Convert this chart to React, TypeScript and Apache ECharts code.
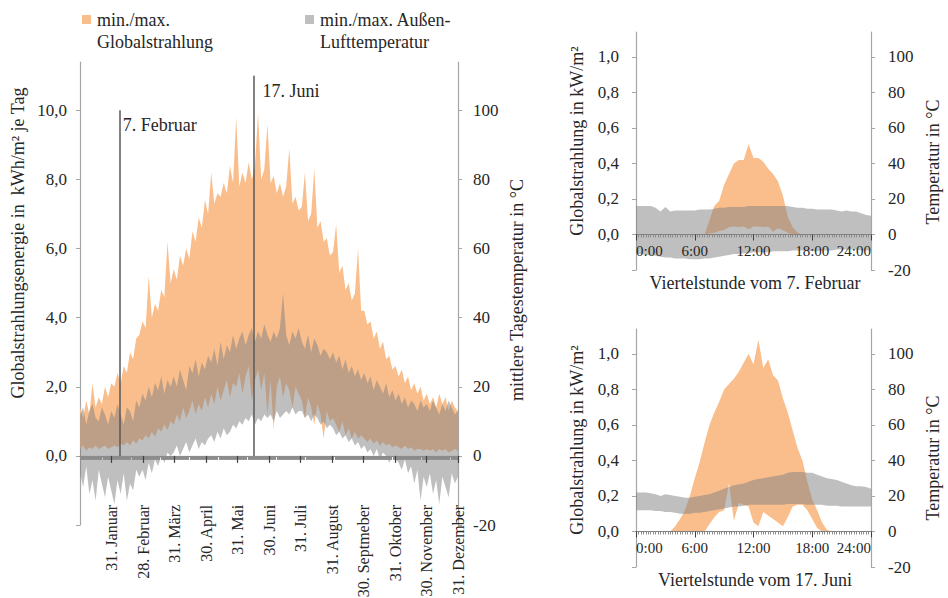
import React, { useEffect, useRef } from 'react';
import * as echarts from 'echarts';

const FONT = '"Liberation Serif", "DejaVu Serif", serif';
const TEXT = '#262626';
const AXIS = '#a6a6a6';
const ORANGE = '#f9be8c';
const GREY = 'rgba(128,128,128,0.5)';
const GREY_KEY = '#bfbfbf';

// ---- Year overview: one value roughly every three days ----
// Daily global radiation, min / max (kWh/m² per day)
const RAD_MAX = [
  1.4, 1.1, 1.6, 1.2, 2.1, 1.4, 1.7, 1.5, 2.0, 1.7, 2.1,
  2.0, 2.4, 2.1, 2.6, 2.4, 3.0, 2.8, 3.4, 3.5,
  3.9, 3.7, 5.2, 4.0, 4.4, 4.2, 4.8, 4.6, 6.2, 5.0,
  5.4, 5.1, 5.8, 5.5, 6.0, 5.7, 6.5, 6.2, 6.9, 6.6,
  7.4, 7.0, 8.2, 7.3, 7.6, 7.5, 7.9, 7.6, 8.4, 7.9,
  9.8, 7.8, 8.2, 7.9, 8.5, 8.0, 8.4, 9.9, 8.0, 8.3,
  9.6, 7.9, 8.1, 7.6, 7.9, 7.5, 7.8, 8.9, 7.3, 7.5, 7.1,
  7.2, 8.2, 6.8, 7.0, 8.3, 6.6, 6.8, 6.2, 6.3, 5.8,
  5.9, 6.7, 5.3, 5.5, 4.8, 5.0, 4.5, 4.7, 6.0, 4.2,
  4.2, 3.8, 3.9, 3.4, 3.6, 3.1, 3.3, 2.8, 2.9, 2.5, 2.6,
  2.3, 2.5, 2.1, 2.3, 1.9, 2.1, 1.8, 2.0, 1.6, 1.8,
  1.5, 1.7, 1.4, 1.8, 1.5, 1.7, 1.3, 1.6, 1.4, 1.3,
];
const RAD_MIN = [
  0.2, 0.3, 0.15, 0.25, 0.2, 0.3, 0.2, 0.25, 0.3, 0.2, 0.25,
  0.3, 0.25, 0.35, 0.3, 0.4, 0.3, 0.45, 0.35, 0.5,
  0.45, 0.6, 0.5, 0.7, 0.55, 0.8, 0.7, 0.9, 0.75, 1.0,
  0.9, 1.2, 1.0, 1.4, 1.1, 1.3, 1.6, 1.2, 1.5, 1.3,
  1.7, 1.4, 1.8, 1.5, 2.0, 1.6, 1.9, 2.2, 1.7, 2.1,
  2.0, 2.4, 1.8, 2.3, 2.6, 1.6, 2.2, 2.5, 1.9, 2.4,
  1.2, 2.2, 0.75, 2.0, 2.3, 1.7, 2.1, 1.9, 1.4, 2.0, 1.8,
  1.6, 1.1, 1.7, 1.4, 0.9, 1.5, 1.2, 0.5, 1.3, 1.0,
  1.1, 0.9, 0.7, 1.0, 0.6, 0.8, 0.5, 0.7, 0.5, 0.6,
  0.5, 0.4, 0.5, 0.35, 0.45, 0.3, 0.4, 0.3, 0.35, 0.25, 0.3,
  0.25, 0.2, 0.3, 0.2, 0.25, 0.15, 0.2, 0.2, 0.15, 0.2,
  0.15, 0.2, 0.1, 0.2, 0.15, 0.2, 0.1, 0.15, 0.2, 0.15,
];
// Outdoor air temperature, min / max (°C)
const TEMP_MAX = [
  12, 14, 9, 13, 15, 11, 10, 14, 12, 9, 13,
  11, 15, 12, 9, 14, 13, 10, 16, 14,
  18, 16, 20, 17, 21, 19, 23, 18, 22, 20,
  23, 20, 25, 22, 19, 26, 24, 28, 23, 27,
  25, 29, 27, 31, 26, 33, 28, 32, 30, 35,
  31, 34, 36, 32, 35, 37, 33, 36, 34, 38,
  35, 33, 36, 34, 37, 47, 35, 32, 36, 34, 37,
  33, 31, 35, 30, 34, 32, 29, 31, 30, 28,
  30, 27, 29, 25, 28, 24, 26, 23, 25, 22,
  24, 21, 23, 19, 22, 20, 18, 21, 17, 19, 16,
  18, 15, 17, 14, 16, 15, 13, 16, 14, 15,
  13, 16, 14, 12, 15, 13, 16, 14, 12, 13,
];
const TEMP_MIN = [
  -5, -9, -3, -11, -7, -13, -4, -8, -12, -6, -10,
  -14, -7, -11, -5, -13, -8, -10, -4, -6,
  -4, -7, -2, -5, -1, -3, 0, -2, 1, 0,
  1, 3, 0, 2, 4, 1, 3, 5, 2, 4,
  3, 5, 6, 4, 7, 5, 8, 6, 7, 9,
  8, 10, 9, 11, 10, 12, 9, 11, 10, 12,
  11, 12, 10, 13, 11, 12, 13, 12, 14, 12, 13,
  13, 11, 12, 10, 12, 11, 9, 10, 8, 9,
  8, 6, 7, 5, 6, 4, 5, 3, 4, 2,
  3, 1, 2, 0, 2, -1, 1, 0, -2, 0, -1,
  -2, -4, -1, -5, -3, -8, -4, -13, -6, -9,
  -5, -11, -7, -14, -6, -9, -12, -5, -8, -6,
];
const YEAR_DAYS = 365;
// sample positions (day of year) of the values above
const DAYS = RAD_MAX.map((_, i) => ((i * YEAR_DAYS) / (RAD_MAX.length - 1)).toFixed(1));

const MONTH_LABELS = [
  '', '31. Januar', '28. Februar', '31. März', '30. April', '31. Mai', '30. Juni',
  '31. Juli', '31. August', '30. Septmeber', '31. Oktober', '30. November', '31. Dezember',
];

// Highlighted days (day of year, line height in kWh/m²)
const MARKER_DAYS = [38, 168];
const MARKER_TOPS = [10, 11];
const MARKER_LABELS = ['7. Februar', '17. Juni'];

// ---- Single days, half-hour resolution (0:00 … 24:00) ----
const FEB_RAD_MAX = [
  0, 0, 0, 0, 0, 0, 0, 0, 0, 0, 0, 0, 0, 0, 0,
  0.08, 0.16, 0.19, 0.28, 0.34, 0.4, 0.42, 0.42, 0.51, 0.43, 0.43, 0.41, 0.37, 0.34, 0.3, 0.22, 0.1, 0.04, 0.01,
  0, 0, 0, 0, 0, 0, 0, 0, 0, 0, 0, 0, 0, 0, 0,
];
const FEB_RAD_MIN = [
  0, 0, 0, 0, 0, 0, 0, 0, 0, 0, 0, 0, 0, 0, 0,
  0.005, 0.01, 0.02, 0.025, 0.04, 0.045, 0.04, 0.045, 0.03, 0.045, 0.045, 0.04, 0.045, 0.015, 0.035, 0.025, 0.01, 0, 0,
  0, 0, 0, 0, 0, 0, 0, 0, 0, 0, 0, 0, 0, 0, 0,
];
const FEB_TEMP_MAX = [
  16, 16, 16, 16, 15, 13, 15.5, 13, 13.5, 13.5, 13.5, 13.5, 13.5, 14, 14, 14,
  14.5, 15, 15, 15.5, 15.5, 15.5, 15.5, 16, 16, 16, 16, 16, 16, 16, 16, 16,
  15.5, 15, 15, 14.5, 14.5, 14, 14, 14, 14, 13.5, 13, 13.5, 13, 13, 12, 11, 10.5,
];
const FEB_TEMP_MIN = [
  -11, -11, -11.5, -11.5, -12, -12.5, -13, -13, -13.5, -13.5, -13.5, -14, -14, -14, -13.5, -13.5,
  -13, -12.5, -12, -11.5, -11, -11, -10.5, -10.5, -10, -10, -10, -10, -9.5, -9.5, -9.5, -9.5,
  -9, -9, -9, -9.5, -9.5, -9.5, -9, -9, -9, -8.5, -8.5, -8.5, -8.5, -8.5, -9, -9, -9,
];
const JUN_RAD_MAX = [
  0, 0, 0, 0, 0, 0, 0, 0,
  0.03, 0.07, 0.12, 0.2, 0.3, 0.39, 0.5, 0.6, 0.67, 0.73, 0.8, 0.83, 0.86, 0.9, 0.95, 1.0,
  0.94, 1.08, 0.92, 0.97, 0.88, 0.85, 0.75, 0.67, 0.57, 0.47, 0.4, 0.28, 0.18, 0.12, 0.05, 0.01,
  0, 0, 0, 0, 0, 0, 0, 0, 0,
];
const JUN_RAD_MIN = [
  0, 0, 0, 0, 0, 0, 0, 0, 0, 0,
  0, 0, 0, 0, 0, 0.04, 0.08, 0.11, 0.12, 0.27, 0.06, 0.16, 0.15, 0.14, 0.05,
  0.03, 0.11, 0.09, 0.07, 0.05, 0.03, 0.08, 0.14, 0.15, 0.15, 0.12, 0.07, 0.02, 0,
  0, 0, 0, 0, 0, 0, 0, 0, 0, 0,
];
const JUN_TEMP_MAX = [
  22, 22, 22, 21.5, 21, 20, 21, 20.5, 20, 19.5, 19, 19, 19.5, 20, 20.5, 21,
  22, 23, 24, 25, 26, 26.5, 27, 28, 29, 29.5, 30, 30.5, 31, 31.5, 32, 33,
  33.5, 33.5, 33.5, 33, 33, 32, 31, 30, 29.5, 29, 28, 27, 26, 25.5, 25.5, 25, 24,
];
const JUN_TEMP_MIN = [
  12, 12, 12, 12, 11.5, 11.5, 11, 11, 10.5, 10, 10, 10, 10.5, 10.5, 11, 11.5,
  12, 12.5, 13, 13.5, 14, 14, 14.5, 15, 15, 15, 15, 15, 15, 15, 15, 15.5,
  15.5, 15.5, 15.5, 15, 15, 15, 15, 14.5, 14.5, 14.5, 14, 14, 14, 14, 14, 14, 14,
];
// half-hour slots, 0:00 … 24:00
const HOURS = FEB_RAD_MAX.map((_, i) => String(i * 0.5));

const RAD_TICKS_DAY = [-2, 0, 2, 4, 6, 8, 10];
const RAD_LABELS_DAY = [0, 2, 4, 6, 8, 10];
const RAD_TICKS_QH = [-0.2, 0, 0.2, 0.4, 0.6, 0.8, 1.0];
const RAD_LABELS_QH = [0, 0.2, 0.4, 0.6, 0.8, 1.0];
const TEMP_TICKS = [-20, 0, 20, 40, 60, 80, 100];

// grid geometry (px)
const MAIN = { left: 80, top: 62, width: 378, height: 463, min: -2, max: 11.4 };
const SMALL = { left: 636, width: 235, height: 238, min: -0.2, max: 1.14 };
const zeroOffset = (g: { height: number; min: number; max: number }) => (g.min / (g.max - g.min)) * g.height;

const comma = (v: number) => v.toFixed(1).replace('.', ',');

function band(
  id: string, xIdx: number, yIdx: number, lo: number[], hi: number[], color: string, z: number,
) {
  const common = {
    type: 'line', xAxisIndex: xIdx, yAxisIndex: yIdx, stack: id, stackStrategy: 'all',
    symbol: 'none', showSymbol: false, silent: true, z, lineStyle: { width: 0, opacity: 0 },
  };
  return [
    { ...common, data: lo },
    { ...common, data: hi.map((v, i) => v - lo[i]), areaStyle: { color, opacity: 1 } },
  ];
}

function dataAxis(gridIndex: number, data: string[]) {
  return { type: 'category', gridIndex, data, boundaryGap: false, show: false };
}

function radAxis(gridIndex: number, min: number, max: number, ticks: number[], labels: number[], margin: number) {
  return {
    type: 'value', gridIndex, position: 'left', min, max, interval: ticks[2] - ticks[1],
    axisLine: { show: true, onZero: false, lineStyle: { color: AXIS, width: 1.2 } },
    axisTick: { show: true, length: 4, customValues: ticks, lineStyle: { color: AXIS } },
    axisLabel: {
      customValues: labels, margin, fontFamily: FONT, fontSize: 17, color: TEXT,
      formatter: (v: number) => (v < -1e-6 || v > labels[labels.length - 1] + 1e-6 ? '' : comma(v)),
    },
    splitLine: { show: false },
  };
}

function tempAxis(gridIndex: number, margin: number) {
  return {
    type: 'value', gridIndex, position: 'right', min: -20, max: 114, interval: 20,
    axisLine: { show: true, onZero: false, lineStyle: { color: AXIS, width: 1.2 } },
    axisTick: { show: true, length: 4, customValues: TEMP_TICKS, lineStyle: { color: AXIS } },
    axisLabel: {
      customValues: TEMP_TICKS, margin, fontFamily: FONT, fontSize: 17, color: TEXT,
      formatter: (v: number) => (v > 100.5 ? '' : String(v)),
    },
    splitLine: { show: false },
  };
}

function hourAxis(gridIndex: number) {
  return {
    type: 'value', gridIndex, position: 'bottom', offset: zeroOffset(SMALL), min: 0, max: 24, interval: 6, z: 5,
    axisLine: { show: true, onZero: false, lineStyle: { color: '#7f7f7f', width: 1 } },
    axisTick: { show: true, length: 6, lineStyle: { color: '#404040', width: 1 } },
    minorTick: { show: true, splitNumber: 24, length: 3, lineStyle: { color: '#8c8c8c' } },
    axisLabel: {
      margin: 9, fontFamily: FONT, fontSize: 15, color: TEXT,
      alignMinLabel: 'left', alignMaxLabel: 'right',
      formatter: (v: number) => `${v}:00`,
    },
    splitLine: { show: false },
  };
}

function title(text: string, x: number, y: number, vertical: boolean) {
  return {
    type: 'text', x, y, rotation: vertical ? Math.PI / 2 : 0, silent: true,
    style: { text, fontFamily: FONT, fontSize: 18, fill: TEXT, align: 'center', verticalAlign: 'middle' },
  };
}

function legendKey(x: number, color: string, lines: string[]) {
  return [
    { type: 'rect', shape: { x, y: 15, width: 9, height: 9 }, style: { fill: color }, silent: true },
    ...lines.map((t, i) => ({
      type: 'text', x: x + 15, y: 20 + i * 22, silent: true,
      style: { text: t, fontFamily: FONT, fontSize: 18, fill: TEXT, align: 'left', verticalAlign: 'middle' },
    })),
  ];
}

export default function App() {
  const ref = useRef<HTMLDivElement>(null);

  useEffect(() => {
    if (!ref.current) return;
    const chart = echarts.init(ref.current, undefined, { renderer: 'svg' });
    const mainZero = zeroOffset(MAIN);

    const option: any = {
      animation: false,
      backgroundColor: '#ffffff',
      textStyle: { fontFamily: FONT },
      grid: [
        { left: MAIN.left, top: MAIN.top, width: MAIN.width, height: MAIN.height, outerBoundsMode: 'none' },
        { left: SMALL.left, top: 32, width: SMALL.width, height: SMALL.height, outerBoundsMode: 'none' },
        { left: SMALL.left, top: 329, width: SMALL.width, height: SMALL.height, outerBoundsMode: 'none' },
      ],
      xAxis: [
        // 0: sample positions of the year series
        dataAxis(0, DAYS),
        // 1: daily ticks along the zero line
        {
          type: 'value', gridIndex: 0, position: 'bottom', offset: mainZero, min: 0, max: YEAR_DAYS, interval: 1, z: 5,
          axisLine: { show: true, onZero: false, lineStyle: { color: '#7f7f7f', width: 1 } },
          axisTick: { show: true, length: 4, lineStyle: { color: '#8c8c8c', width: 1 } },
          axisLabel: { show: false },
          splitLine: { show: false },
        },
        // 2: month ends
        {
          type: 'category', gridIndex: 0, position: 'bottom', offset: mainZero, data: MONTH_LABELS, boundaryGap: false, z: 6,
          axisLine: { show: false, onZero: false },
          axisTick: {
            show: true, length: 7, interval: (i: number) => i > 0,
            lineStyle: { color: '#404040', width: 1.2 },
          },
          axisLabel: {
            interval: 0, rotate: 90, margin: 49, fontFamily: FONT, fontSize: 16, color: TEXT,
          },
          splitLine: { show: false },
        },
        dataAxis(1, HOURS),
        hourAxis(1),
        dataAxis(2, HOURS),
        hourAxis(2),
      ],
      yAxis: [
        radAxis(0, MAIN.min, MAIN.max, RAD_TICKS_DAY, RAD_LABELS_DAY, 13),
        tempAxis(0, 15),
        radAxis(1, SMALL.min, SMALL.max, RAD_TICKS_QH, RAD_LABELS_QH, 17),
        tempAxis(1, 17),
        radAxis(2, SMALL.min, SMALL.max, RAD_TICKS_QH, RAD_LABELS_QH, 17),
        tempAxis(2, 17),
      ],
      series: [
        ...band('radYear', 0, 0, RAD_MIN, RAD_MAX, ORANGE, 2),
        ...band('tempYear', 0, 1, TEMP_MIN, TEMP_MAX, GREY, 3),
        {
          type: 'line', xAxisIndex: 1, yAxisIndex: 0, data: [], z: 7, silent: true,
          markLine: {
            silent: true, symbol: ['none', 'none'], label: { show: false },
            lineStyle: { color: '#595959', width: 1.5, type: 'solid' },
            data: MARKER_DAYS.map((d, i) => [{ coord: [d, 0] }, { coord: [d, MARKER_TOPS[i]] }]),
          },
          markPoint: {
            silent: true, symbol: 'circle', symbolSize: 1, itemStyle: { color: 'rgba(0,0,0,0)' },
            data: MARKER_DAYS.map((d, i) => ({
              coord: [d, MARKER_TOPS[i]], name: MARKER_LABELS[i],
              label: {
                show: true, position: 'right', formatter: '{b}', distance: i === 0 ? 3 : 8, offset: [0, 15],
                fontFamily: FONT, fontSize: 18, color: TEXT,
              },
            })),
          },
        },
        ...band('radFeb', 3, 2, FEB_RAD_MIN, FEB_RAD_MAX, ORANGE, 2),
        ...band('tempFeb', 3, 3, FEB_TEMP_MIN, FEB_TEMP_MAX, GREY, 3),
        ...band('radJun', 5, 4, JUN_RAD_MIN, JUN_RAD_MAX, ORANGE, 2),
        ...band('tempJun', 5, 5, JUN_TEMP_MIN, JUN_TEMP_MAX, GREY, 3),
      ],
      graphic: [
        ...legendKey(82, ORANGE, ['min./max.', 'Globalstrahlung']),
        ...legendKey(305, GREY_KEY, ['min./max. Außen-', 'Lufttemperatur']),
        title('Globalstrahlungsenergie in  kWh/m² je Tag', 18, 243, true),
        title('mittlere Tagestemperatur in °C', 517, 290, true),
        title('Globalstrahlung in kW/m²', 577, 141, true),
        title('Temperatur in °C', 933, 162, true),
        title('Viertelstunde vom 7. Februar', 755, 283, false),
        title('Globalstrahlung in kW/m²', 577, 440, true),
        title('Temperatur in °C', 933, 458, true),
        title('Viertelstunde vom 17. Juni', 755, 580, false),
      ],
    };

    chart.setOption(option);
    return () => chart.dispose();
  }, []);

  return (
    <div
      ref={ref}
      style={{ position: 'absolute', left: 0, top: 0, width: 948, height: 598, background: '#fff' }}
    />
  );
}
